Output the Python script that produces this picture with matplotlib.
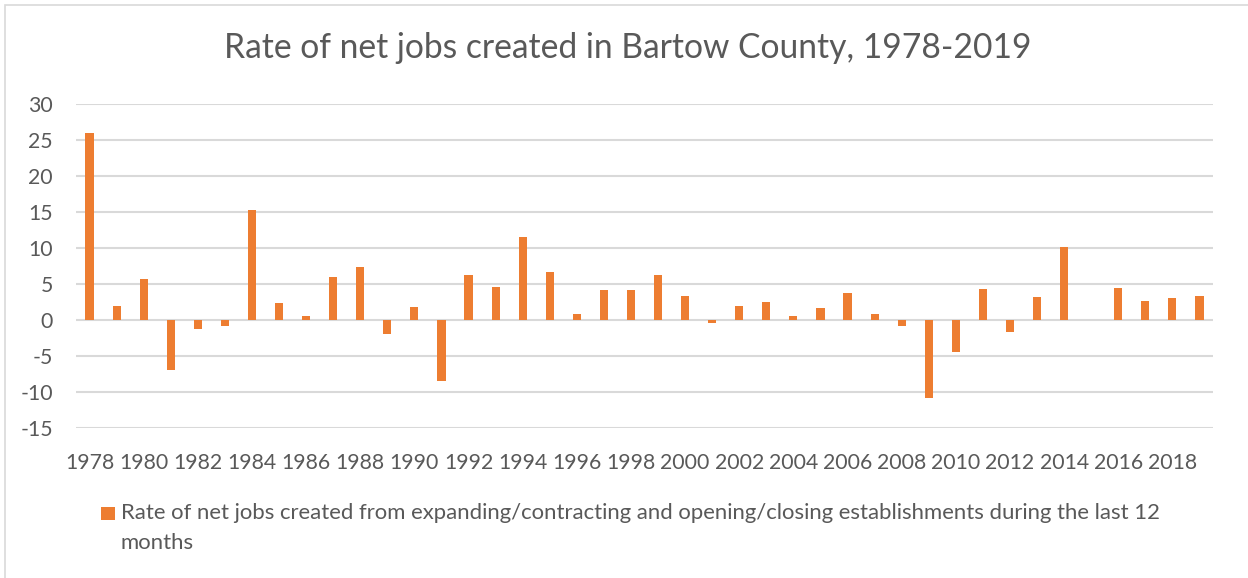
import numpy as np
import matplotlib
matplotlib.use("Agg")
import matplotlib.pyplot as plt
from matplotlib.patches import Rectangle

years = list(range(1978, 2020))
values = [26.0, 2.0, 5.7, -7.0, -1.3, -0.9, 15.3, 2.3, 0.6, 6.0,
          7.4, -2.0, 1.8, -8.5, 6.2, 4.6, 11.5, 6.7, 0.8, 4.2,
          4.1, 6.3, 3.4, -0.4, 1.9, 2.45, 0.6, 1.6, 3.8, 0.8,
          -0.9, -10.8, -4.4, 4.35, -1.6, 3.15, 10.2, np.nan, 4.5, 2.6,
          3.05, 3.4]
y_ticks = [-15, -10, -5, 0, 5, 10, 15, 20, 25, 30]
title = "Rate of net jobs created in Bartow County, 1978-2019"
series_label = ("Rate of net jobs created from expanding/contracting and opening/closing "
                "establishments during the last 12\nmonths")

BAR = "#ED7D31"
TXT = "#595959"
GRID = "#D9D9D9"
plt.rcParams['font.family'] = ['Lato', 'DejaVu Sans']

W, H = 1248, 578
fig = plt.figure(figsize=(W / 100, H / 100), dpi=100)
fig.patch.set_facecolor("white")

# outer chart border (left/top visible)
fig.add_artist(Rectangle((5 / W, -0.01), 1.1, (H - 5) / H + 0.01, transform=fig.transFigure,
                         fill=False, edgecolor="#D9D9D9", linewidth=1.2))

left, right, top, bottom = 76, 1213, 104, 428
ax = fig.add_axes([left / W, (H - bottom) / H, (right - left) / W, (bottom - top) / H])
x = np.arange(len(years))
ax.bar(x, values, width=0.3, color=BAR, zorder=3)
ax.set_xlim(-0.5, len(years) - 0.5)
ax.set_ylim(-15, 30)
ax.set_yticks(y_ticks)
ax.set_yticklabels([str(v) for v in y_ticks])
ax.set_xticks(x[::2])
ax.set_xticklabels([str(y) for y in years[::2]])
ax.tick_params(axis="both", length=0, labelsize=15.3, colors=TXT)
ax.tick_params(axis="y", pad=16.5)
ax.tick_params(axis="x", pad=18)
for s in ax.spines.values():
    s.set_visible(False)
ax.grid(axis="y", color=GRID, linewidth=1.5, zorder=0)
ax.set_axisbelow(True)

fig.text(628 / W, 1 - 48 / H, title, ha="center", va="center", fontsize=24.2, color=TXT)

# legend
fig.add_artist(Rectangle((101 / W, 1 - 520 / H), 14 / W, 13 / H, transform=fig.transFigure,
                         facecolor=BAR, edgecolor="none"))
fig.text(121 / W, 1 - 503 / H, series_label, ha="left", va="top", fontsize=15.9,
         color=TXT, linespacing=1.65)

fig.savefig("out.png", dpi=100)
